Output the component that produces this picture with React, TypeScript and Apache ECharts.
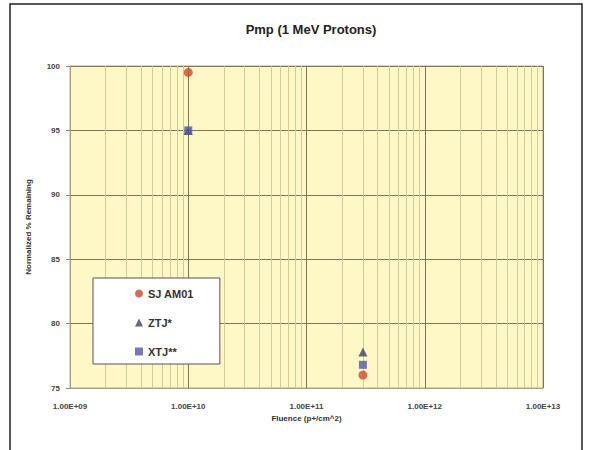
import React, { useEffect, useRef } from "react";
import * as echarts from "echarts";

const title = "Pmp (1 MeV Protons)";
const xAxisName = "Fluence (p+/cm^2)";
const yAxisName = "Normalized % Remaining";

const seriesNames = ["SJ AM01", "ZTJ*", "XTJ**"];
const sjData: [number, number][] = [[1e10, 99.5], [3e11, 76.0]];
const ztjData: [number, number][] = [[1e10, 95.0], [3e11, 77.8]];
const xtjData: [number, number][] = [[1e10, 95.0], [3e11, 76.8]];

const minorMultipliers = [2, 3, 4, 5, 6, 7, 8, 9];
const decades = [1e9, 1e10, 1e11, 1e12];

function fmtExp(v: number): string {
  const e = Math.round(Math.log10(v));
  const m = v / Math.pow(10, e);
  const es = (e < 10 ? "0" : "") + e;
  return m.toFixed(2) + "E+" + es;
}

export default function App() {
  const ref = useRef<HTMLDivElement>(null);
  useEffect(() => {
    if (!ref.current) return;
    const chart = echarts.init(ref.current, undefined, { renderer: "svg" });
    const minorLines: { xAxis: number }[] = [];
    decades.forEach((d) => minorMultipliers.forEach((m) => minorLines.push({ xAxis: d * m })));
    const font = "'Liberation Sans', Arial, sans-serif";
    chart.setOption({
      animation: false,
      backgroundColor: "#ffffff",
      title: {
        text: title,
        left: 306,
        textAlign: "center",
        top: 18,
        textStyle: { fontFamily: font, fontSize: 13, fontWeight: "bold", color: "#222" },
      },
      graphic: [
        {
          type: "rect",
          shape: { x: 10, y: 4, width: 572, height: 460 },
          style: { fill: "none", stroke: "#222", lineWidth: 1.5 },
          silent: true,
          z: -1,
        },
      ],
      grid: {
        left: 70,
        right: 46,
        top: 66,
        bottom: 62,
        show: true,
        backgroundColor: "#fdf8c6",
        borderColor: "#b5ac86",
        borderWidth: 1,
      },
      legend: {
        orient: "vertical",
        left: 93,
        top: 278,
        z: 50,
        data: [
          { name: seriesNames[0], icon: "circle" },
          { name: seriesNames[1], icon: "triangle" },
          { name: seriesNames[2], icon: "rect" },
        ],
        backgroundColor: "#ffffff",
        borderColor: "#555",
        borderWidth: 1,
        padding: [10, 26, 7, 42],
        itemWidth: 8,
        itemHeight: 8,
        itemGap: 18,
        textStyle: { fontFamily: font, fontSize: 11, fontWeight: "bold", color: "#333" },
      },
      xAxis: {
        type: "log",
        logBase: 10,
        min: 1e9,
        max: 1e13,
        name: xAxisName,
        nameLocation: "middle",
        nameGap: 26,
        nameTextStyle: { fontFamily: font, fontSize: 8, fontWeight: "bold", color: "#333" },
        axisLine: { show: true, lineStyle: { color: "#a89f7c" } },
        axisTick: { show: false },
        axisLabel: {
          formatter: (v: number) => fmtExp(v),
          fontFamily: font,
          fontSize: 8,
          fontWeight: "bold",
          color: "#444",
          margin: 14,
        },
        splitLine: { show: true, lineStyle: { color: "#7f7659", width: 1 } },
      },
      yAxis: {
        type: "value",
        min: 75,
        max: 100,
        interval: 5,
        name: yAxisName,
        nameLocation: "middle",
        nameGap: 38,
        nameTextStyle: { fontFamily: font, fontSize: 8, fontWeight: "bold", color: "#333" },
        axisLine: { show: true, lineStyle: { color: "#a89f7c" } },
        axisTick: { show: true, length: 4, lineStyle: { color: "#888" } },
        axisLabel: { fontFamily: font, fontSize: 8, fontWeight: "bold", color: "#444", margin: 10 },
        splitLine: { show: true, lineStyle: { color: "#7f7659", width: 1 } },
      },
      series: [
        {
          name: "minor",
          type: "scatter",
          data: [],
          silent: true,
          z: 1,
          markLine: {
            silent: true,
            symbol: "none",
            z: 1,
            label: { show: false },
            lineStyle: { color: "#d6cb94", type: "solid", width: 1 },
            data: minorLines,
          },
        },
        {
          name: seriesNames[0],
          type: "scatter",
          symbol: "circle",
          symbolSize: 9,
          itemStyle: { color: "#cc4a2c" },
          data: sjData,
          z: 3,
        },
        {
          name: seriesNames[1],
          type: "scatter",
          symbol: "triangle",
          symbolSize: 9,
          itemStyle: { color: "#3c3f66" },
          data: ztjData,
          z: 3,
        },
        {
          name: seriesNames[2],
          type: "scatter",
          symbol: "rect",
          symbolSize: 8,
          itemStyle: { color: "#5558a8" },
          data: xtjData,
          z: 4,
        },
      ],
    });
    return () => chart.dispose();
  }, []);
  return (
    <div
      ref={ref}
      style={{ position: "fixed", left: 0, top: 0, width: 589, height: 450 }}
    />
  );
}
